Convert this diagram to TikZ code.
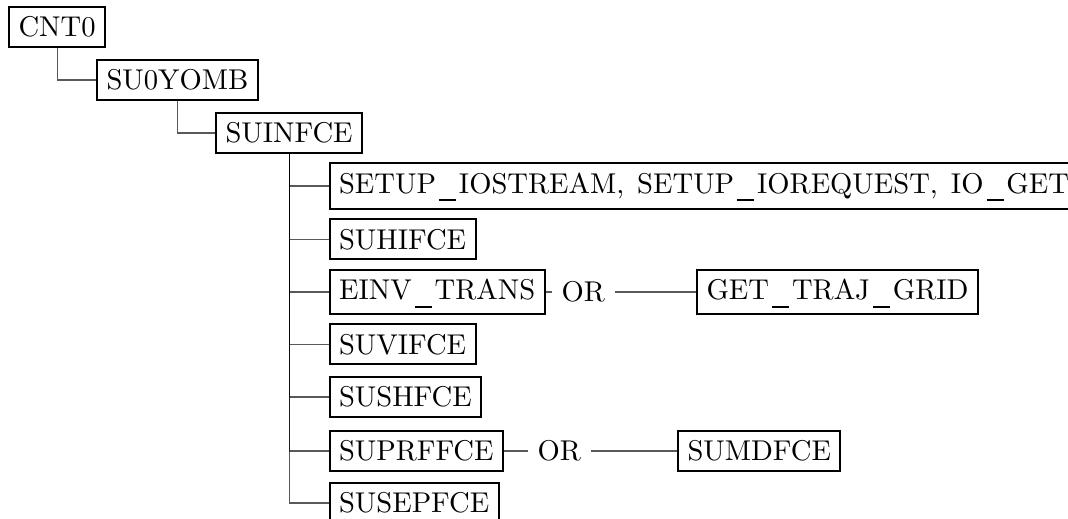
\documentclass[tikz,border=0pt]{standalone}
\font\bigrm="[lmroman10-regular.otf]" at 28.6pt
\newlength\uswd
\newcommand\us{\settowidth\uswd{\_}\makebox[\dimexpr\uswd+1.5pt\relax]{\raisebox{-8pt}[0pt][4.6pt]{\rule{17pt}{2.3pt}}}}
\newcommand\wsp{\hspace{3.5pt}}
\tikzset{
  box/.style={draw, line width=2pt, anchor=west, font=\bigrm, inner sep=9.53pt},
  lbl/.style={anchor=west, font=\bigrm, inner sep=9.53pt},
  conn/.style={line width=1.1pt, draw=black, draw opacity=0.65},
}
\begin{document}
\begin{tikzpicture}[x=1pt,y=-1pt]
\useasboundingbox (0,0) rectangle (1068,519);
\node[box] (cnt) at (8,27) {CNT0};
\node[box] (suy) at (96,80) {SU0YOMB};
\node[box] (suin) at (215,133) {SUINFCE};
\node[box] (setup) at (328.5,186) {SETUP\us IOSTREAM,\wsp{} SETUP\us IOREQUEST,\wsp{} IO\us GET};
\node[box] (suhi) at (328.5,239.3) {SUHIFCE};
\node[box] (einv) at (328.5,292) {EINV\us TRANS};
\node[lbl] (or1) at (552,292) {OR};
\node[box] (get) at (696,292) {GET\us TRAJ\us GRID};
\node[box] (suvi) at (328.5,344.3) {SUVIFCE};
\node[box] (sush) at (328.5,397) {SUSHFCE};
\node[box] (suprf) at (328.5,451) {SUPRFFCE};
\node[lbl] (or2) at (528,451) {OR};
\node[box] (sumd) at (677,451) {SUMDFCE};
\node[box] (susep) at (328.5,503) {SUSEPFCE};
\draw[conn] (cnt.south) |- (suy.west);
\draw[conn] (suy.south) |- (suin.west);
\foreach \c in {setup,suhi,einv,suvi,sush,suprf,susep}
  \draw[conn] (suin.south) |- (\c.west);
\draw[conn] (einv.east) -- (or1.west);
\draw[conn] (or1.east) -- (get.west);
\draw[conn] (suprf.east) -- (or2.west);
\draw[conn] (or2.east) -- (sumd.west);
\end{tikzpicture}
\end{document}
